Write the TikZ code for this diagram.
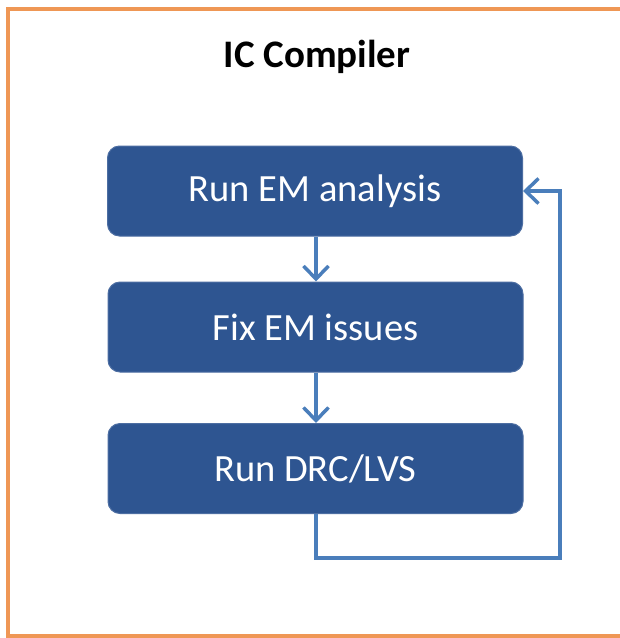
\documentclass[tikz,border=0pt]{standalone}
\usepackage{fontspec}
\setmainfont{Carlito}
\usetikzlibrary{arrows.meta}
\definecolor{boxblue}{HTML}{2E5591}
\definecolor{lineblue}{HTML}{4A7EBB}
\definecolor{frameorange}{HTML}{EF9755}
\begin{document}
\begin{tikzpicture}[x=1pt,y=-1pt,
  stepbox/.style={draw=boxblue!85!white,line width=1pt,fill=boxblue,rounded corners=12pt,
    minimum width=415pt,minimum height=90pt,inner sep=0pt,text=white,font=\fontsize{38.5}{44}\selectfont},
  flow/.style={draw=lineblue,line width=3.5pt,-{Straight Barb[length=13pt,width=25pt,line width=3.5pt]}}]
\useasboundingbox (0,0) rectangle (620,638);
\fill[white] (0,0) rectangle (620,638);
\draw[frameorange,line width=4pt] (8,9) rectangle (630,636);
\node[font=\bfseries\fontsize{39}{44}\selectfont] (title) at (317,57) {IC Compiler};
\node[stepbox] (a) at (315,191) {Run EM analysis};
\node[stepbox] (b) at (315.5,327) {Fix EM issues};
\node[stepbox] (c) at (315.5,468.5) {Run DRC/LVS};
\draw[flow] (a.south -| 316,0) -- (b.north -| 316,0);
\draw[flow] (b.south -| 316,0) -- (c.north -| 316,0);
\coordinate (d1) at (316,558);
\coordinate (d2) at (560,558);
\coordinate (d3) at (560,191);
\draw[flow] (c.south -| 316,0) -- (d1) -- (d2) -- (d3) -- (a.east);
\end{tikzpicture}
\end{document}
